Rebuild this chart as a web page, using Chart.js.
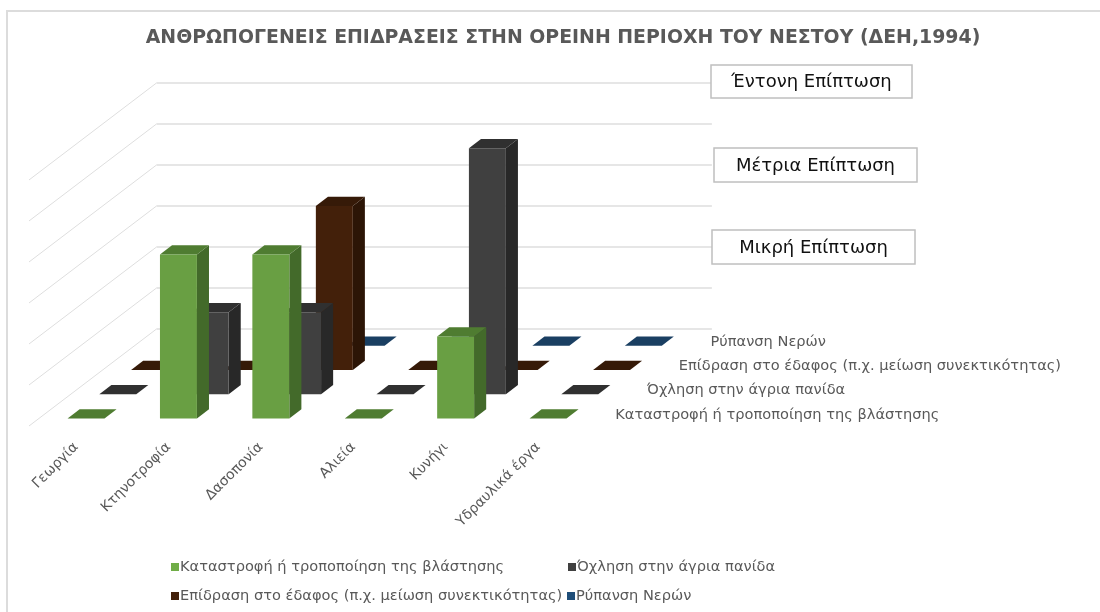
<!DOCTYPE html>
<html lang="el">
<head>
<meta charset="utf-8">
<title>Ανθρωπογενείς επιδράσεις</title>
<script src="https://cdn.jsdelivr.net/npm/chart.js@4"></script>
<style>
    html, body { margin: 0; padding: 0; background: #ffffff; }
    canvas { display: block; }
</style>
</head>
<body>
<canvas id="grafico" width="1100" height="612"></canvas>
<script>
(function () {
    var chartTitle = 'ΑΝΘΡΩΠΟΓΕΝΕΙΣ ΕΠΙΔΡΑΣΕΙΣ ΣΤΗΝ ΟΡΕΙΝΗ ΠΕΡΙΟΧΗ ΤΟΥ ΝΕΣΤΟΥ (ΔΕΗ,1994)';
    var categories = ['Γεωργία', 'Κτηνοτροφία', 'Δασοπονία', 'Αλιεία', 'Κυνήγι', 'Υδραυλικά έργα'];
    var seriesNames = [
        'Καταστροφή ή τροποποίηση της βλάστησης',
        'Όχληση στην άγρια πανίδα',
        'Επίδραση στο έδαφος (π.χ. μείωση συνεκτικότητας)',
        'Ρύπανση Νερών'
    ];
    var vegetation = [0, 4, 4, 0, 2, 0];
    var wildlife = [0, 2, 2, 0, 6, 0];
    var soil = [0, 0, 4, 0, 0, 0];
    var water = [0, 0, 0, 0, 0, 0];
    var impactLabels = ['Έντονη Επίπτωση', 'Μέτρια Επίπτωση', 'Μικρή Επίπτωση'];

    var frontColors = ['#699f43', '#404040', '#43200a', '#1f4e79'];
    var sideColors = ['#436a2a', '#282828', '#2c1506', '#153553'];
    var topColors = ['#4f7c31', '#303030', '#361a08', '#1a3f62'];
    var legendColors = ['#70ad47', '#404040', '#43200a', '#1f4e79'];

    var impactBoxes = [
        { x: 711, y: 65, w: 201, h: 33 },
        { x: 714, y: 148, w: 203, h: 34 },
        { x: 712, y: 230, w: 203, h: 34 }
    ];
    var legendSpots = [
        { x: 171, y: 567 },
        { x: 568, y: 567 },
        { x: 171, y: 596 },
        { x: 567, y: 596 }
    ];

    // depth of the floor per series, and of one bar
    var stepX = 31.75;
    var stepY = 24.25;
    var barDepth = 0.38;
    var fontName = '"DejaVu Sans", sans-serif';

    function barOffset(index) {
        var d = index + 0.5 - barDepth / 2;
        return { x: d * stepX, y: -d * stepY };
    }

    function polygon(ctx, color, points) {
        ctx.fillStyle = color;
        ctx.beginPath();
        ctx.moveTo(points[0], points[1]);
        for (var i = 2; i < points.length; i += 2) {
            ctx.lineTo(points[i], points[i + 1]);
        }
        ctx.closePath();
        ctx.fill();
    }

    function drawWalls(chart) {
        var ctx = chart.ctx;
        var area = chart.chartArea;
        var yScale = chart.scales.y;
        var depthX = stepX * seriesNames.length;
        var depthY = stepY * seriesNames.length;

        ctx.save();
        ctx.strokeStyle = '#dedede';
        yScale.ticks.forEach(function (tick) {
            var y = yScale.getPixelForValue(tick.value);
            ctx.lineWidth = 1;
            ctx.beginPath();
            ctx.moveTo(area.left - 1, y);
            ctx.lineTo(area.left + depthX - 0.5, y - depthY);
            ctx.stroke();
            ctx.lineWidth = 1.5;
            ctx.beginPath();
            ctx.moveTo(area.left + depthX - 0.5, y - depthY);
            ctx.lineTo(area.right + depthX + 0.5, y - depthY);
            ctx.stroke();
        });
        ctx.restore();
    }

    function drawSeriesAxis(chart) {
        var ctx = chart.ctx;
        var area = chart.chartArea;

        ctx.save();
        ctx.font = '14.6px ' + fontName;
        ctx.fillStyle = '#595959';
        ctx.textBaseline = 'middle';
        seriesNames.forEach(function (name, i) {
            ctx.fillText(name, area.right + (i + 0.5) * stepX + 15, area.bottom - (i + 0.5) * stepY + 1);
        });
        ctx.restore();
    }

    function drawImpactBoxes(chart) {
        var ctx = chart.ctx;

        ctx.save();
        ctx.font = '18px ' + fontName;
        ctx.textAlign = 'center';
        ctx.textBaseline = 'middle';
        impactLabels.forEach(function (label, i) {
            var box = impactBoxes[i];
            ctx.fillStyle = '#ffffff';
            ctx.fillRect(box.x, box.y, box.w, box.h);
            ctx.strokeStyle = '#bfbfbf';
            ctx.lineWidth = 1.5;
            ctx.strokeRect(box.x, box.y, box.w, box.h);
            ctx.fillStyle = '#111111';
            ctx.fillText(label, box.x + box.w / 2, box.y + box.h / 2 + 1);
        });
        ctx.restore();
    }

    function drawLegend(chart) {
        var ctx = chart.ctx;

        ctx.save();
        ctx.font = '14.6px ' + fontName;
        ctx.textBaseline = 'middle';
        chart.data.datasets.forEach(function (dataset, i) {
            var spot = legendSpots[i];
            ctx.fillStyle = legendColors[i];
            ctx.fillRect(spot.x, spot.y - 4, 8, 8);
            ctx.fillStyle = '#595959';
            ctx.fillText(dataset.label, spot.x + 9, spot.y);
        });
        ctx.restore();
    }

    var plot3d = {
        id: 'plot3d',
        afterLayout: function (chart) {
            // the title is centred on the whole figure, not on the floor
            chart.titleBlock.left = 26;
            chart.titleBlock.right = 1100;
        },
        beforeDraw: function (chart) {
            var ctx = chart.ctx;
            ctx.save();
            ctx.strokeStyle = '#dcdcdc';
            ctx.lineWidth = 2;
            ctx.strokeRect(7, 11, 1200, 700);
            ctx.restore();
        },
        beforeDatasetsDraw: function (chart) {
            drawWalls(chart);
        },
        beforeDatasetDraw: function (chart, args) {
            var ctx = chart.ctx;
            var i = args.index;
            var offset = barOffset(i);
            var dx = barDepth * stepX;
            var dy = barDepth * stepY;

            ctx.save();
            ctx.translate(offset.x, offset.y);
            args.meta.data.forEach(function (bar) {
                var left = bar.x - bar.width / 2;
                var right = bar.x + bar.width / 2;
                polygon(ctx, sideColors[i], [right, bar.y, right + dx, bar.y - dy, right + dx, bar.base - dy, right, bar.base]);
                polygon(ctx, topColors[i], [left, bar.y, left + dx, bar.y - dy, right + dx, bar.y - dy, right, bar.y]);
            });
        },
        afterDatasetDraw: function (chart) {
            chart.ctx.restore();
        },
        afterDatasetsDraw: function (chart) {
            drawSeriesAxis(chart);
            drawImpactBoxes(chart);
            drawLegend(chart);
        }
    };

    var seriesValues = [vegetation, wildlife, soil, water];

    new Chart(document.getElementById('grafico').getContext('2d'), {
        type: 'bar',
        data: {
            labels: categories,
            datasets: seriesValues.map(function (values, i) {
                return {
                    label: seriesNames[i],
                    data: values,
                    backgroundColor: frontColors[i],
                    grouped: false,
                    barPercentage: 0.4,
                    categoryPercentage: 1,
                    clip: false
                };
            })
        },
        options: {
            responsive: false,
            animation: false,
            layout: { padding: { left: 30, right: 515.6, top: 0, bottom: 0 } },
            plugins: {
                legend: { display: false },
                tooltip: { enabled: false },
                title: {
                    display: true,
                    text: chartTitle,
                    color: '#595959',
                    font: { family: fontName, size: 18.9, weight: 'bold' },
                    padding: { top: 27, bottom: 130.3 }
                }
            },
            scales: {
                x: {
                    grid: { display: false },
                    border: { display: false },
                    ticks: {
                        minRotation: 45,
                        maxRotation: 45,
                        color: '#595959',
                        padding: 5,
                        font: { family: fontName, size: 14 }
                    },
                    afterFit: function (scale) {
                        scale.height = 186;
                        scale.paddingLeft = 0;
                        scale.paddingRight = 0;
                    }
                },
                y: {
                    min: 0,
                    max: 6,
                    afterFit: function (scale) {
                        scale.width = 0;
                        scale.paddingTop = 0;
                        scale.paddingBottom = 0;
                    },
                    grid: { display: false },
                    border: { display: false },
                    ticks: { display: false, stepSize: 1 }
                }
            }
        },
        plugins: [plot3d]
    });
})();
</script>
</body>
</html>
